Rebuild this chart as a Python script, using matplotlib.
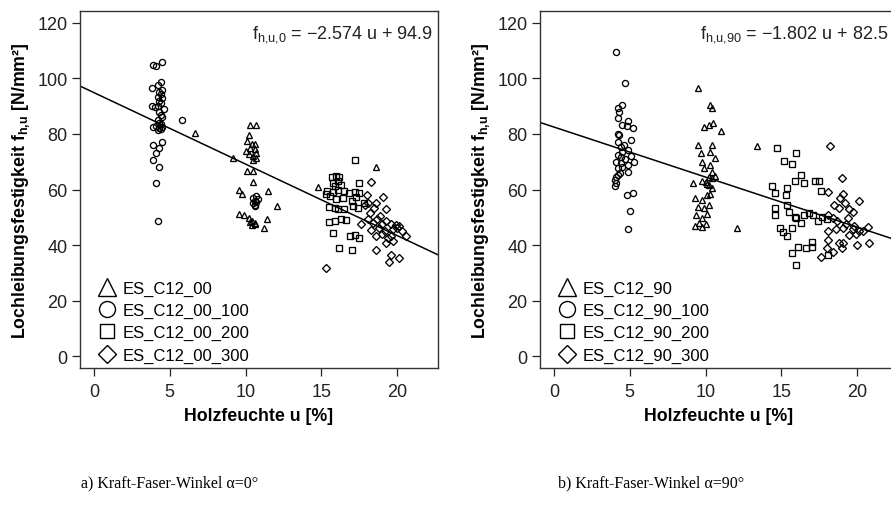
import matplotlib
matplotlib.use("Agg")
import matplotlib.pyplot as plt
from matplotlib.lines import Line2D

plt.rcParams["font.family"] = ["Liberation Sans", "DejaVu Sans"]
plt.rcParams["mathtext.fontset"] = "custom"
plt.rcParams["mathtext.rm"] = "Liberation Sans"
plt.rcParams["mathtext.default"] = "regular"

# --- data: alpha = 0 deg ---
u0 = [6.7, 10.3, 10.7, 10.2, 10.1, 10.4, 10.3, 10.6, 10.0, 10.2, 10.5, 10.7, 9.2, 10.7, 10.1, 10.5, 10.5, 9.6,
      11.5, 9.8, 12.1, 9.6, 9.9, 10.2, 10.4, 10.6, 10.4, 11.4, 11.2, 10.6, 10.3, 14.8, 18.6, 10.5, 10.6]
f0 = [80.2, 83.4, 83.4, 79.8, 77.5, 76.5, 75.0, 74.5, 73.8, 72.8, 72.0, 71.4, 71.2, 73.0, 66.6, 66.6, 62.6, 60.0,
      59.6, 58.4, 54.2, 51.0, 50.8, 49.8, 48.8, 48.0, 47.2, 49.4, 46.3, 47.6, 48.2, 60.8, 68.2, 70.5, 76.5]
u0_100 = [4.5, 3.9, 4.1, 4.4, 4.2, 3.8, 4.5, 4.3, 4.4, 4.2, 4.5, 4.3, 4.4, 4.2, 4.6, 4.3, 4.0, 4.4, 4.5, 4.2,
          4.3, 4.4, 4.1, 4.5, 4.3, 3.9, 4.2, 4.4, 3.8, 5.8, 4.5, 3.9, 4.3, 4.1, 3.9, 4.3, 4.1, 4.2,
          10.5, 10.6, 10.7, 10.6, 10.5, 10.8, 10.7, 10.6]
f0_100 = [106, 104.8, 104.5, 98.8, 97.6, 96.6, 96.0, 95.2, 94.5, 93.5, 92.8, 92.0, 91.0, 90.0, 89.0, 88.0, 89.8,
          87.0, 86.0, 85.0, 84.0, 83.5, 82.8, 82.5, 82.0, 82.6, 81.5, 81.8, 90.0, 85.0, 77.2, 76.0, 74.8, 73.0,
          70.6, 68.2, 62.5, 48.7, 57.0, 56.0, 55.5, 54.5, 55.0, 56.5, 57.5, 54.0]
u0_200 = [17.2, 15.7, 16.0, 16.2, 15.8, 16.1, 15.9, 16.3, 17.5, 15.4, 15.8, 16.1, 16.5, 16.8, 17.2, 17.5, 15.6,
          16.0, 16.4, 17.0, 17.3, 15.5, 15.9, 16.5, 17.1, 17.4, 15.9, 16.3, 15.5, 16.6, 15.8, 16.9, 17.2, 17.5,
          16.2, 17.0, 15.3, 16.1, 17.8]
f0_200 = [70.5, 64.5, 64.8, 64.5, 62.5, 63.0, 61.2, 61.8, 62.2, 59.5, 59.0, 60.0, 59.5, 58.6, 59.2, 58.8, 57.5,
          56.5, 57.0, 56.0, 57.2, 53.8, 53.2, 53.0, 54.0, 53.5, 48.8, 49.5, 48.4, 49.0, 44.3, 43.3, 43.5, 42.6,
          39.0, 38.2, 58.5, 53.0, 55.0]
u0_300 = [18.3, 19.1, 18.0, 19.3, 18.6, 17.9, 18.1, 17.6, 18.1, 18.4, 18.7, 19.0, 19.3, 19.6, 19.9, 20.1, 18.3,
          18.8, 19.2, 19.7, 20.0, 20.3, 18.6, 19.0, 19.6, 20.6, 19.3, 19.7, 18.6, 19.6, 20.1, 19.5, 15.3, 18.5,
          18.2, 18.9, 19.4]
f0_300 = [62.8, 57.4, 58.0, 52.9, 55.0, 54.4, 55.3, 47.4, 49.2, 48.0, 49.5, 47.6, 48.8, 47.5, 47.2, 46.8, 45.5,
          46.2, 45.0, 45.8, 46.0, 45.2, 43.2, 44.0, 43.4, 43.3, 40.6, 41.4, 38.2, 36.4, 35.4, 34.0, 31.8, 53.2,
          51.4, 50.5, 42.5]
slope0, icpt0 = -2.574, 94.9

# --- data: alpha = 90 deg ---
u90 = [9.5, 10.3, 10.4, 10.2, 10.5, 9.9, 11.0, 9.5, 10.4, 9.7, 10.3, 10.6, 9.8, 10.3, 10.4, 9.9, 10.4, 10.2,
       10.6, 9.2, 10.0, 10.2, 10.4, 9.3, 10.1, 9.75, 9.5, 10.2, 9.9, 9.4, 10.1, 9.75, 9.6, 10.0, 9.3, 9.75,
       12.1, 13.4, 9.8, 10.1, 10.3]
f90 = [96.4, 90.6, 89.2, 83.2, 83.8, 82.6, 81.0, 76.0, 76.0, 73.0, 73.6, 71.4, 70.0, 68.8, 66.4, 67.6, 64.0,
       64.6, 65.0, 62.2, 62.8, 61.6, 60.4, 56.8, 58.0, 56.2, 53.8, 54.4, 53.2, 50.8, 51.0, 49.6, 47.8, 47.4,
       47.0, 46.6, 46.0, 75.6, 63.0, 62.0, 58.5]
u90_100 = [4.1, 4.7, 4.5, 4.25, 4.3, 4.25, 4.9, 4.5, 4.8, 5.2, 5.1, 4.25, 4.3, 4.2, 4.4, 4.5, 4.9, 4.25, 4.45,
           5.1, 4.1, 4.4, 4.9, 5.3, 4.25, 4.5, 4.9, 4.1, 4.0, 4.25, 4.1, 4.05, 5.2, 4.8, 5.0, 4.9, 4.6, 4.35, 4.7]
f90_100 = [109.6, 98.4, 90.4, 89.2, 88.0, 85.6, 84.6, 83.2, 82.9, 82.0, 77.8, 80.0, 79.6, 77.0, 75.4, 73.6,
           74.2, 72.4, 71.8, 72.0, 70.0, 69.4, 68.8, 70.0, 67.6, 68.2, 66.4, 64.6, 63.4, 65.2, 62.2, 61.3, 58.9,
           58.0, 52.3, 45.6, 76.0, 66.0, 71.0]
u90_200 = [14.7, 16.0, 15.2, 15.7, 16.3, 16.5, 15.9, 17.2, 17.5, 14.4, 14.6, 15.4, 15.3, 17.6, 14.6, 14.6, 15.4,
           15.5, 16.0, 15.9, 16.5, 16.8, 17.1, 15.7, 14.9, 15.1, 15.4, 16.1, 16.6, 17.0, 15.7, 17.0, 18.1, 16.0,
           17.7, 17.4, 16.3, 18.0]
f90_200 = [75.1, 73.2, 70.2, 69.1, 65.4, 62.2, 63.0, 63.1, 63.1, 61.2, 58.6, 60.4, 58.0, 59.5, 53.5, 50.8, 54.4,
           52.0, 49.6, 50.2, 50.8, 51.4, 50.8, 46.0, 46.0, 44.8, 43.3, 39.4, 39.0, 39.4, 37.3, 41.2, 36.4, 32.8,
           50.2, 48.6, 48.0, 49.5]
u90_300 = [18.2, 19.0, 18.1, 19.1, 20.1, 18.5, 18.8, 19.2, 19.5, 19.7, 18.9, 18.1, 18.4, 18.7, 19.4, 18.1, 18.6,
           19.1, 19.7, 20.1, 20.7, 18.1, 18.8, 19.5, 19.9, 20.4, 18.0, 19.0, 19.1, 20.0, 20.8, 17.6, 18.4, 19.3,
           19.8]
f90_300 = [75.6, 64.2, 59.2, 58.2, 55.9, 54.5, 53.5, 55.0, 53.0, 52.0, 56.8, 50.8, 49.6, 48.6, 49.6, 45.0, 45.6,
           46.2, 45.8, 45.0, 46.4, 41.8, 40.6, 43.6, 44.0, 45.2, 39.0, 39.0, 40.6, 40.0, 40.6, 35.8, 37.5, 47.5,
           47.0]
slope90, icpt90 = -1.802, 82.5

panels = [
    {
        "series": [(u0, f0), (u0_100, f0_100), (u0_200, f0_200), (u0_300, f0_300)],
        "names": ["ES_C12_00", "ES_C12_00_100", "ES_C12_00_200", "ES_C12_00_300"],
        "fit": (slope0, icpt0),
        "eq": "f$_{h{,}u{,}0}$ = \u22122.574 u + 94.9",
        "caption": "a) Kraft-Faser-Winkel \u03b1=0\u00b0",
    },
    {
        "series": [(u90, f90), (u90_100, f90_100), (u90_200, f90_200), (u90_300, f90_300)],
        "names": ["ES_C12_90", "ES_C12_90_100", "ES_C12_90_200", "ES_C12_90_300"],
        "fit": (slope90, icpt90),
        "eq": "f$_{h{,}u{,}90}$ = \u22121.802 u + 82.5",
        "caption": "b) Kraft-Faser-Winkel \u03b1=90\u00b0",
    },
]

markers = ["^", "o", "s", "D"]
plot_ms = [5.0, 4.4, 4.1, 3.7]
legend_ms = [12.5, 11.5, 10.0, 9.0]

W, H = 891, 506
fig = plt.figure(figsize=(W / 100, H / 100), dpi=100)

ax_left_px = [80, 540]
eq_right_px = [433, 889]
caption_x = [170, 651]
for i, p in enumerate(panels):
    ax = fig.add_axes([ax_left_px[i] / W, 1 - 369 / H, 358 / W, 357 / H])
    for (x, y), m, ms in zip(p["series"], markers, plot_ms):
        ax.plot(x, y, linestyle="none", marker=m, ms=ms, mfc="none", mec="black", mew=0.95)
    slope, icpt = p["fit"]
    ax.axline((0, icpt), slope=slope, color="black", lw=1.1)
    ax.set_xlim(-0.92, 22.7)
    ax.set_ylim(-4.3, 124.3)
    ax.set_xticks([0, 5, 10, 15, 20])
    ax.set_yticks([0, 20, 40, 60, 80, 100, 120])
    ax.tick_params(direction="out", length=6, width=0.9, labelsize=13, colors="#222222", pad=3)
    ax.tick_params(axis="x", pad=5)
    for s in ax.spines.values():
        s.set_linewidth(1.0)
        s.set_color("#333333")
    ax.set_xlabel("Holzfeuchte u [%]", fontsize=12.8, fontweight="bold")
    ax.set_ylabel("Lochleibungsfestigkeit f$_{h{,}u}$ [N/mm\u00b2]", fontsize=12.8, fontweight="bold")
    ax.xaxis.set_label_coords(0.5, -0.108)
    ax.yaxis.set_label_coords(-0.135, 0.5)
    fig.text(eq_right_px[i] / W, 1 - 24 / H, p["eq"], ha="right", va="top", fontsize=13, color="#222222")
    handles = [Line2D([], [], linestyle="none", marker=m, ms=ms, mfc="none", mec="black", mew=1.0)
               for m, ms in zip(markers, legend_ms)]
    ax.legend(handles, p["names"], loc="lower left", frameon=False, fontsize=12, handlelength=1.0,
              handletextpad=0.4, labelspacing=0.42, borderaxespad=0.1, bbox_to_anchor=(0.03, -0.008))
    fig.text(caption_x[i] / W, 1 - 483 / H, p["caption"], ha="center", va="center",
             fontsize=11.5, family="Liberation Serif")

fig.savefig("out.png", dpi=100)
